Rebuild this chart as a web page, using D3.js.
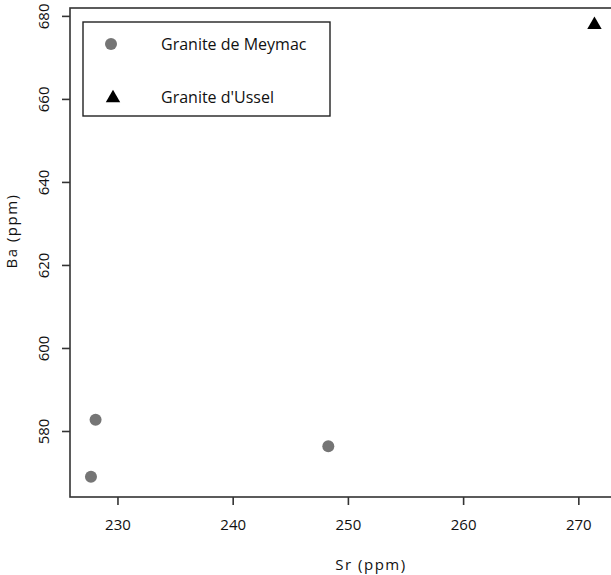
<!DOCTYPE html>
<html>
<head>
<meta charset="utf-8">
<script src="https://cdn.jsdelivr.net/npm/d3@7"></script>
<style>
  body { margin: 0; background: #fff; }
  svg { display: block; overflow: hidden; }
  text { font-family: "Open Sans", "DejaVu Sans", sans-serif; fill: #111; }
</style>
</head>
<body>
<svg id="chart"></svg>
<script>
// data
const meymacSr = [228.1, 227.7, 248.3];
const meymacBa = [582.7, 569.0, 576.3];
const usselSr = [271.4];
const usselBa = [678.1];
const xTicks = [230, 240, 250, 260, 270];
const yTicks = [580, 600, 620, 640, 660, 680];
const legendLabels = ["Granite de Meymac", "Granite d'Ussel"];

const width = 611, height = 575;
const margin = { top: 8, right: -61, bottom: 78, left: 70 };

const svg = d3.select("#chart").attr("width", width).attr("height", height);

const x = d3.scaleLinear().domain([225.88, 278.13]).range([margin.left, width - margin.right]);
const y = d3.scaleLinear().domain([564.1, 681.9]).range([height - margin.bottom, margin.top]);

// plot box
svg.append("rect")
    .attr("x", x.range()[0]).attr("y", y.range()[1])
    .attr("width", x.range()[1] - x.range()[0])
    .attr("height", y.range()[0] - y.range()[1])
    .attr("fill", "none").attr("stroke", "#333").attr("stroke-width", 1.6);

// axes
const xAxis = svg.append("g")
    .attr("transform", `translate(0, ${y.range()[0]})`)
    .call(d3.axisBottom(x).tickValues(xTicks).tickSize(8).tickPadding(14).tickSizeOuter(0));
const yAxis = svg.append("g")
    .attr("transform", `translate(${x.range()[0]}, 0)`)
    .call(d3.axisLeft(y).tickValues(yTicks).tickSize(8).tickSizeOuter(0));

[xAxis, yAxis].forEach(a => {
    a.select(".domain").remove();
    a.selectAll(".tick line").attr("stroke", "#333").attr("stroke-width", 1.6);
    a.selectAll(".tick text").style("font-size", "15px").attr("fill", "#111");
});
yAxis.selectAll(".tick text")
    .attr("x", 0).attr("dy", 0)
    .attr("text-anchor", "middle")
    .attr("transform", "translate(-27, 0) rotate(-90)")
    .attr("dominant-baseline", "central");

// axis titles
svg.append("text")
    .attr("x", 371).attr("y", 570)
    .attr("text-anchor", "middle")
    .style("font-size", "15px").style("letter-spacing", "1.5px")
    .text("Sr (ppm)");
svg.append("text")
    .attr("transform", "translate(17, 231) rotate(-90)")
    .attr("text-anchor", "middle")
    .style("font-size", "15px").style("letter-spacing", "1.5px")
    .text("Ba (ppm)");

// points
const meymac = meymacSr.map((d, i) => ({ sr: d, ba: meymacBa[i] }));
const ussel = usselSr.map((d, i) => ({ sr: d, ba: usselBa[i] }));

svg.append("g").selectAll("circle")
    .data(meymac)
    .join("circle")
    .attr("cx", d => x(d.sr))
    .attr("cy", d => y(d.ba))
    .attr("r", 6)
    .attr("fill", "#757575");

const tri = d3.symbol().type(d3.symbolTriangle).size(90);
svg.append("g").selectAll("path")
    .data(ussel)
    .join("path")
    .attr("d", tri)
    .attr("transform", d => `translate(${x(d.sr)}, ${y(d.ba) + 1})`)
    .attr("fill", "#000");

// legend
const legend = svg.append("g").attr("transform", "translate(83, 22)");
legend.append("rect")
    .attr("width", 247).attr("height", 94)
    .attr("fill", "#fff").attr("stroke", "#222").attr("stroke-width", 1.4);
legend.append("circle").attr("cx", 28).attr("cy", 22).attr("r", 6).attr("fill", "#757575");
legend.append("path").attr("d", tri).attr("transform", "translate(30, 76)").attr("fill", "#000");
legend.selectAll("text.lab")
    .data(legendLabels)
    .join("text")
    .attr("class", "lab")
    .attr("x", 78)
    .attr("y", (d, i) => 22 + i * 53)
    .attr("dominant-baseline", "central")
    .style("font-size", "16px")
    .text(d => d);
</script>
</body>
</html>
